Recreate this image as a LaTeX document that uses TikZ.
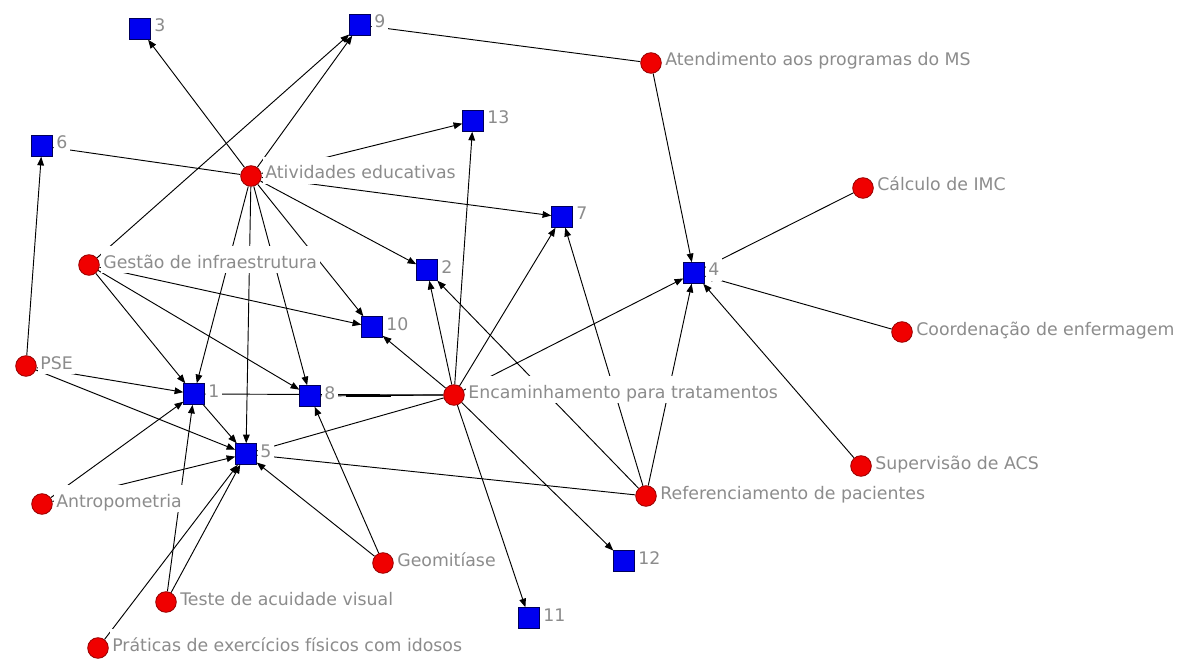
\documentclass[tikz,border=0pt]{standalone}
\usepackage{fontspec}
\setmainfont{DejaVu Sans}
\usetikzlibrary{arrows.meta}
\pgfdeclarelayer{edges}
\pgfsetlayers{edges,main}
\definecolor{actred}{RGB}{240,0,0}
\definecolor{actredline}{RGB}{150,0,0}
\definecolor{evblue}{RGB}{0,0,240}
\definecolor{evblueline}{RGB}{0,0,90}
\definecolor{lblgray}{RGB}{140,140,140}
\tikzset{
  actor/.style={circle, fill=actred, draw=actredline, line width=0.6pt,
    minimum size=15.5pt, inner sep=0pt},
  event/.style={rectangle, fill=evblue, draw=evblueline, line width=0.6pt,
    minimum size=15.5pt, inner sep=0pt},
  lbl/.style={fill=white, text=lblgray, font=\fontsize{13}{14}\selectfont,
    inner xsep=2pt, inner ysep=1pt, text height=15.5pt, text depth=2.4pt,
    anchor=west, xshift=0.5pt, yshift=4.3pt},
  tie/.style={draw=black, line width=0.7pt,
    -{Triangle[length=6.5pt,width=5pt]}},
}
\begin{document}
\begin{tikzpicture}[x=0.75pt,y=-0.75pt]
\useasboundingbox (0,0) rectangle (1181,659);

% numbered squares
\node[event] (s1)  at (194,394) {};
\node[event] (s2)  at (427,270) {};
\node[event] (s3)  at (140,29)  {};
\node[event] (s4)  at (694,273) {};
\node[event] (s5)  at (246,454) {};
\node[event] (s6)  at (42,146)  {};
\node[event] (s7)  at (562,217) {};
\node[event] (s8)  at (310,396) {};
\node[event] (s9)  at (360,25)  {};
\node[event] (s10) at (372,327) {};
\node[event] (s11) at (529,618) {};
\node[event] (s12) at (624,561) {};
\node[event] (s13) at (473,121) {};

% activity circles
\node[actor] (ae)    at (251,176) {};
\node[actor] (atd)   at (651,63)  {};
\node[actor] (imc)   at (863,188) {};
\node[actor] (gi)    at (89,265)  {};
\node[actor] (coord) at (902,332) {};
\node[actor] (pse)   at (26,366)  {};
\node[actor] (enc)   at (454,395) {};
\node[actor] (acs)   at (861,466) {};
\node[actor] (ref)   at (646,496) {};
\node[actor] (antro) at (42,504)  {};
\node[actor] (geo)   at (383,563) {};
\node[actor] (tav)   at (166,602) {};
\node[actor] (pef)   at (98,648)  {};

% ties, drawn beneath nodes and labels
\begin{pgfonlayer}{edges}
\fill[white] (0,0) rectangle (1181,659);
\foreach \t in {s3,s9,s6,s13,s7,s2,s10,s1,s5,s8}
  \draw[tie] (ae) -- (\t);
\foreach \t in {s9,s10,s8,s1}
  \draw[tie] (gi) -- (\t);
\foreach \t in {s6,s1,s5}
  \draw[tie] (pse) -- (\t);
\draw[tie] (s1) -- (s5);
\foreach \t in {s1,s8,s10,s2,s13,s7,s4,s5,s12,s11}
  \draw[tie] (enc) -- (\t);
\draw[line width=1.6pt] ([xshift=19pt]s8.east) -- ([xshift=53pt]s8.east);
\foreach \t in {s2,s7,s4,s5}
  \draw[tie] (ref) -- (\t);
\foreach \t in {s9,s4}
  \draw[tie] (atd) -- (\t);
\draw[tie] (imc) -- (s4);
\draw[tie] (coord) -- (s4);
\draw[tie] (acs) -- (s4);
\foreach \t in {s1,s5}
  \draw[tie] (antro) -- (\t);
\foreach \t in {s1,s5}
  \draw[tie] (tav) -- (\t);
\draw[tie] (pef) -- (s5);
\foreach \t in {s5,s8}
  \draw[tie] (geo) -- (\t);
\end{pgfonlayer}

% labels
\node[lbl] (s1l)  at (s1.east)  {1};
\node[lbl] (s2l)  at (s2.east)  {2};
\node[lbl] (s3l)  at (s3.east)  {3};
\node[lbl] (s4l)  at (s4.east)  {4};
\node[lbl] (s5l)  at (s5.east)  {5};
\node[lbl] (s6l)  at (s6.east)  {6};
\node[lbl] (s7l)  at (s7.east)  {7};
\node[lbl] (s8l)  at (s8.east)  {8};
\node[lbl] (s9l)  at (s9.east)  {9};
\node[lbl] (s10l) at (s10.east) {10};
\node[lbl] (s11l) at (s11.east) {11};
\node[lbl] (s12l) at (s12.east) {12};
\node[lbl] (s13l) at (s13.east) {13};
\node[lbl] (ael)    at (ae.east)    {Atividades educativas};
\node[lbl] (atdl)   at (atd.east)   {Atendimento aos programas do MS};
\node[lbl] (imcl)   at (imc.east)   {Cálculo de IMC};
\node[lbl] (gil)    at (gi.east)    {Gestão de infraestrutura};
\node[lbl] (coordl) at (coord.east) {Coordenação de enfermagem};
\node[lbl] (psel)   at (pse.east)   {PSE};
\node[lbl] (encl)   at (enc.east)   {Encaminhamento para tratamentos};
\node[lbl] (acsl)   at (acs.east)   {Supervisão de ACS};
\node[lbl] (refl)   at (ref.east)   {Referenciamento de pacientes};
\node[lbl] (antrol) at (antro.east) {Antropometria};
\node[lbl] (geol)   at (geo.east)   {Geomitíase};
\node[lbl] (tavl)   at (tav.east)   {Teste de acuidade visual};
\node[lbl] (pefl)   at (pef.east)   {Práticas de exercícios físicos com idosos};
\end{tikzpicture}
\end{document}
